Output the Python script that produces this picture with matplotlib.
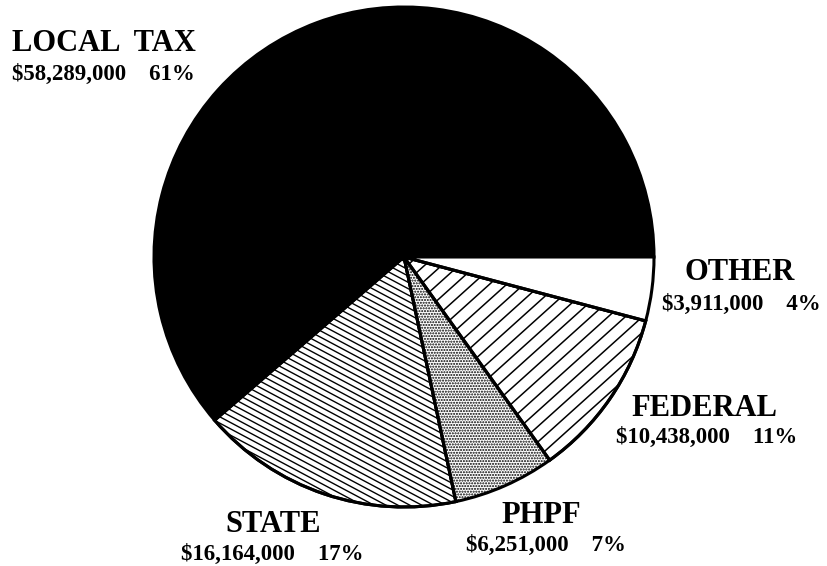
import numpy as np
import matplotlib.pyplot as plt
from matplotlib.collections import LineCollection
from matplotlib.patches import Wedge

# revenue sources (dollars)
sources = ["LOCAL TAX", "STATE", "PHPF", "FEDERAL", "OTHER"]
amounts = [58289000, 16164000, 6251000, 10438000, 3911000]
percents = [61, 17, 7, 11, 4]

plt.rcParams["hatch.linewidth"] = 1.0

W, H = 827, 566
fig = plt.figure(figsize=(W / 100, H / 100), dpi=100)
ax = fig.add_axes([0, 0, 1, 1])

cx, cy, r = 404, H - 257, 250
wedges, _ = ax.pie(amounts, startangle=0, counterclock=True,
                   center=(cx, cy), radius=r,
                   colors=["black", "white", "white", "white", "white"],
                   wedgeprops=dict(edgecolor="black", linewidth=2.2))
ax.set_xlim(0, W)
ax.set_ylim(0, H)
ax.set_aspect("equal")
ax.axis("off")

# PHPF stipple
wedges[2].set_hatch("......")


def line_hatch(wedge, angle, spacing, lw):
    # parallel lines across the pie, clipped to the wedge
    a = np.deg2rad(angle)
    d = np.array([np.cos(a), np.sin(a)])
    n = np.array([-d[1], d[0]])
    segs = []
    for off in np.arange(-r, r, spacing):
        p = np.array([cx, cy]) + n * off
        segs.append([p - d * r * 1.2, p + d * r * 1.2])
    lc = LineCollection(segs, colors="black", linewidths=lw, zorder=wedge.get_zorder() + 0.1)
    ax.add_collection(lc)
    lc.set_clip_path(wedge)
    # redraw outline on top
    ax.add_patch(Wedge((cx, cy), r, wedge.theta1, wedge.theta2, fill=False,
                       edgecolor="black", linewidth=2.2, zorder=wedge.get_zorder() + 0.2))


line_hatch(wedges[1], -28, 5.6, 1.0)
line_hatch(wedges[3], 42, 11.5, 1.1)

font = dict(family="Liberation Serif", fontweight="bold", color="black")

# (x, baseline y, ha) for name and for value line, in pixels from top-left
label_pos = {
    "LOCAL TAX": ((12, 51, "left"), (12, 80, "left")),
    "STATE": ((273, 532, "center"), (272, 560, "center")),
    "PHPF": ((541, 523, "center"), (546, 551, "center")),
    "FEDERAL": ((704, 416, "center"), (707, 443, "center")),
    "OTHER": ((740, 280, "center"), (741, 310, "center")),
}

for name, amt, pct in zip(sources, amounts, percents):
    (tx, ty, tha), (vx, vy, vha) = label_pos[name]
    ax.text(tx, H - ty, name.replace(" ", "  "), fontsize=22, ha=tha, va="baseline", **font)
    ax.text(vx, H - vy, f"${amt:,}    {pct}%", fontsize=16.5, ha=vha, va="baseline", **font)

fig.savefig("out.png", dpi=100)
